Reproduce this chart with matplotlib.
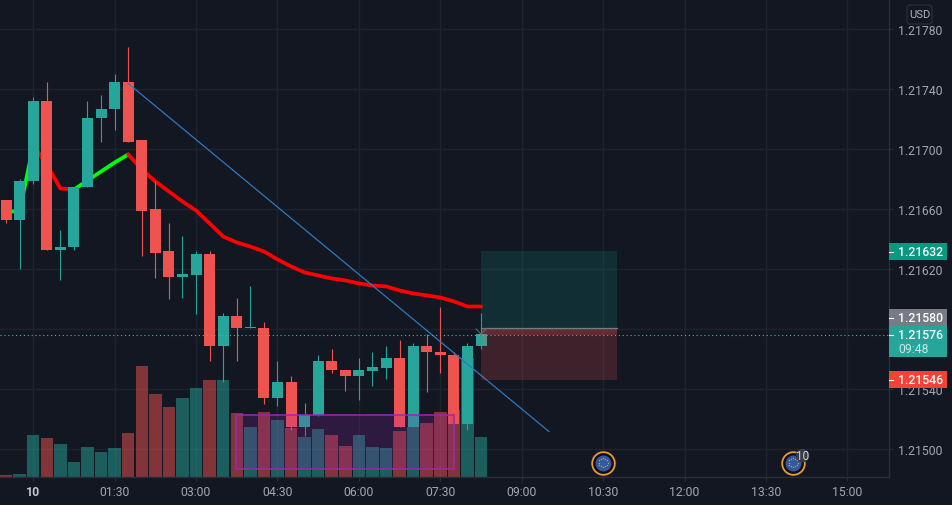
import numpy as np
import matplotlib
matplotlib.use("Agg")
import matplotlib.pyplot as plt
from matplotlib.patches import Rectangle, FancyBboxPatch
from matplotlib.transforms import Affine2D

plt.rcParams['font.family'] = ['Roboto', 'DejaVu Sans']

# 15 minute bars, bar 0 is the "10" tick
bars = list(range(-2, 34))
opens = [1.216660, 1.216527, 1.216787, 1.217320, 1.216327, 1.216347, 1.216747, 1.217207, 1.217267,
         1.217453, 1.217060, 1.216600, 1.216320, 1.216147, 1.216160, 1.216300, 1.215687, 1.215893,
         1.215807, 1.215813, 1.215340, 1.215453, 1.215147, 1.215227, 1.215593, 1.215533, 1.215487,
         1.215520, 1.215540, 1.215613, 1.215147, 1.215693, 1.215653, 1.215633, 1.215167, 1.215687]
closes = [1.216527, 1.216793, 1.217320, 1.216327, 1.216353, 1.216753, 1.217213, 1.217273, 1.217453,
          1.217053, 1.216593, 1.216313, 1.216147, 1.216167, 1.216300, 1.215687, 1.215893, 1.215807,
          1.215813, 1.215340, 1.215453, 1.215147, 1.215227, 1.215593, 1.215527, 1.215487, 1.215527,
          1.215547, 1.215613, 1.215147, 1.215693, 1.215647, 1.215627, 1.215167, 1.215693, 1.215767]
highs = [1.216660, 1.216800, 1.217353, 1.217453, 1.216460, 1.216753, 1.217320, 1.217360, 1.217500,
         1.217680, 1.217060, 1.216793, 1.216513, 1.216420, 1.216320, 1.216320, 1.215913, 1.216007,
         1.216093, 1.215853, 1.215587, 1.215487, 1.215307, 1.215627, 1.215667, 1.215533, 1.215607,
         1.215647, 1.215687, 1.215727, 1.215713, 1.215773, 1.215953, 1.215647, 1.215713, 1.215913]
lows = [1.216513, 1.216200, 1.216773, 1.216327, 1.216127, 1.216333, 1.216747, 1.217053, 1.217127,
        1.217053, 1.216293, 1.216140, 1.216000, 1.216007, 1.215900, 1.215587, 1.215447, 1.215587,
        1.215807, 1.215300, 1.215287, 1.215127, 1.215087, 1.215220, 1.215507, 1.215387, 1.215327,
        1.215420, 1.215467, 1.215147, 1.215147, 1.215380, 1.215507, 1.215167, 1.215127, 1.215667]
volumes = [2, 3, 42, 39, 33, 15, 30, 25, 29, 44, 111, 83, 70, 79, 89, 97, 97, 64,
           50, 65, 57, 49, 40, 48, 42, 31, 42, 30, 29, 46, 50, 54, 65, 67, 119, 40]
ma_line = [1.216587, 1.216587, 1.217027, 1.216900, 1.216740, 1.216733, 1.216793, 1.216853, 1.216913,
           1.216967, 1.216867, 1.216787, 1.216720, 1.216653, 1.216593, 1.216507, 1.216420, 1.216380,
           1.216353, 1.216320, 1.216267, 1.216220, 1.216180, 1.216160, 1.216140, 1.216127, 1.216107,
           1.216093, 1.216087, 1.216060, 1.216040, 1.216027, 1.216013, 1.215987, 1.215953, 1.215953]

price_ticks = [1.21780, 1.21740, 1.21700, 1.21660, 1.21620, 1.21580, 1.21540, 1.21500]
# the 1.21580 tick sits under the last price labels
price_labels = ["1.21780", "1.21740", "1.21700", "1.21660", "1.21620", "", "1.21540", "1.21500"]
time_ticks = [0, 6, 12, 18, 24, 30, 36, 42, 48, 54, 60]
time_labels = ["10", "01:30", "03:00", "04:30", "06:00", "07:30", "09:00", "10:30", "12:00", "13:30", "15:00"]

trend_x = [7, 38]
trend_y = [1.217440, 1.215120]
range_box = [14.96, 31.0, 1.215233, 1.214867]
entry_price = 1.215807
target_price = 1.21632
stop_price = 1.21546
last_price = 1.21576
position_bars = [33, 43]
event_bars = [42, 56]
event_price = 1.214913

up_color = "#26a69a"
down_color = "#ef5350"
bg = "#131722"
grid_color = "#1f232e"
axis_color = "#2a2e39"
text_color = "#a3a6af"

fig = plt.figure(figsize=(9.52, 5.06), dpi=100, facecolor=bg)
ax = fig.add_axes([0, 1 - 478 / 506, 888.5 / 952, 478 / 506], facecolor=bg)
px = Affine2D().scale(1 / 952, -1 / 506).translate(0, 1) + fig.transFigure

bar_px = 13.57
price_px = 0.0004 / 60
ymin, ymax = 1.214813 + 0.5 * price_px, 1.218000 + 0.5 * price_px
ax.set_xlim(-33.2 / bar_px, 855.3 / bar_px)
ax.set_ylim(ymin, ymax)

x = np.array(bars)
o = np.array(opens)
c = np.array(closes)
colors = [up_color if b >= a else down_color for a, b in zip(opens, closes)]

# volume sits on the bottom of the pane, one unit is about a pixel
ax.bar(x, np.array(volumes) * price_px, bottom=ymin, width=0.92, color=colors, alpha=0.5, zorder=1)

# moving average changes colour by direction
ax.plot(x[:3], ma_line[:3], color="#00ff00", lw=2.7, zorder=3, solid_capstyle="round")
ax.plot(x[2:6], ma_line[2:6], color="#ff0000", lw=2.7, zorder=3, solid_capstyle="round")
ax.plot(x[5:10], ma_line[5:10], color="#00ff00", lw=2.7, zorder=3, solid_capstyle="round")
ax.plot(x[9:], ma_line[9:], color="#ff0000", lw=2.7, zorder=3, solid_capstyle="round")

ax.vlines(x, lows, highs, colors=colors, lw=0.8, zorder=4)
ax.bar(x, np.maximum(np.abs(c - o), 0.000007), bottom=np.minimum(o, c), width=0.81, color=colors, zorder=5)

ax.plot(trend_x, trend_y, color="#2e78bd", lw=0.9, zorder=6)

# selection box, fill and border drawn apart so the border stays solid
ax.add_patch(Rectangle((range_box[0], range_box[3]), range_box[1] - range_box[0], range_box[2] - range_box[3],
                       facecolor="#9c27b0", alpha=0.2, lw=0, zorder=7))
ax.add_patch(Rectangle((range_box[0], range_box[3]), range_box[1] - range_box[0], range_box[2] - range_box[3],
                       fill=False, edgecolor="#9c27b0", lw=1.1, zorder=7.5))

# long position tool
w = position_bars[1] - position_bars[0]
ax.add_patch(Rectangle((position_bars[0], entry_price), w, target_price - entry_price,
                       facecolor="#0f8f86", alpha=0.2, lw=0, zorder=7))
ax.add_patch(Rectangle((position_bars[0], stop_price), w, entry_price - stop_price,
                       facecolor=down_color, alpha=0.2, lw=0, zorder=7))
ax.add_patch(Rectangle((position_bars[0], last_price), w, entry_price - last_price,
                       facecolor=down_color, alpha=0.2, lw=0, zorder=7))
ax.plot(position_bars, [entry_price, entry_price], color="#787b86", lw=0.9, zorder=7)

ax.axhline(last_price, color="#4fb3aa", lw=0.8, ls=(0, (1, 2.5)), zorder=8)

ax.plot([476, 481, 486], [330, 335, 330], color="#5d606b", lw=0.9, transform=px, zorder=9)

# calendar events
for b in event_bars:
    ax.plot([b], [event_price], "o", ms=16.3, mfc="#0d0f16", mec="#ee9b2d", mew=1.3, zorder=9)
    ax.plot([b], [event_price], "o", ms=11.5, mfc="#35589c", mec="none", zorder=10)
    a = np.arange(12) * np.pi / 6
    ax.plot(b + 4.6 * np.cos(a) / bar_px, event_price + 4.6 * np.sin(a) * price_px, "o", ms=1.0,
            mfc="#d59a3a", mec="none", zorder=11)
ax.plot([event_bars[1] + 9 / bar_px], [event_price + 7.5 * price_px], "o", ms=9.8, mfc="#363a45", mec="none", zorder=12)
ax.text(event_bars[1] + 9 / bar_px, event_price + 7.5 * price_px, "10", color="#d1d4dc", fontsize=8.4,
        ha="center", va="center", zorder=13)

# axes and grid
ax.set_xticks(time_ticks)
ax.set_xticklabels(time_labels)
ax.set_yticks(price_ticks)
ax.set_yticklabels(price_labels)
ax.yaxis.tick_right()
ax.grid(True, color=grid_color, lw=1.0)
ax.set_axisbelow(True)
ax.tick_params(axis="both", length=3.2, width=0.8, color=axis_color, labelcolor=text_color, labelsize=8.8)
ax.tick_params(axis="y", pad=3.5)
ax.tick_params(axis="x", pad=2.8)
ax.get_xticklabels()[0].set_fontweight("bold")
ax.get_xticklabels()[0].set_color("#c3c6ce")
for s in ["top", "left"]:
    ax.spines[s].set_visible(False)
for s in ["right", "bottom"]:
    ax.spines[s].set_color(axis_color)
    ax.spines[s].set_linewidth(1.0)

# price labels on the right
labels = [("1.21632", 244, 261, "#089981", 252.5),
          ("1.21580", 310, 327, "#787b86", 318.5),
          ("1.21576", 327, 358, "#26a69a", 336),
          ("1.21546", 372, 389, "#f44336", 380.5)]
for text, top, bottom, col, mid in labels:
    ax.add_patch(Rectangle((889, top), 58, bottom - top, transform=px, facecolor=col, lw=0,
                           clip_on=False, zorder=20))
    ax.plot([889, 893], [mid, mid], color="white", lw=0.8, transform=px, clip_on=False, zorder=21)
    ax.text(898, mid, text, color="white", fontsize=8.8, fontweight="medium", transform=px,
            va="center", ha="left", clip_on=False, zorder=21)
ax.text(898, 349.5, "09:48", color="#c8e8e4", fontsize=8.8, transform=px, va="center", ha="left",
        clip_on=False, zorder=21)

# currency badge
ax.add_patch(FancyBboxPatch((909, 8), 21, 15, boxstyle="round,pad=2,rounding_size=3", transform=px,
                            facecolor=bg, edgecolor=axis_color, lw=0.9, clip_on=False, zorder=20))
ax.text(919.5, 15.5, "USD", color="#b2b5be", fontsize=8, transform=px, va="center", ha="center",
        clip_on=False, zorder=21)

fig.savefig("out.png", dpi=100, facecolor=bg)
